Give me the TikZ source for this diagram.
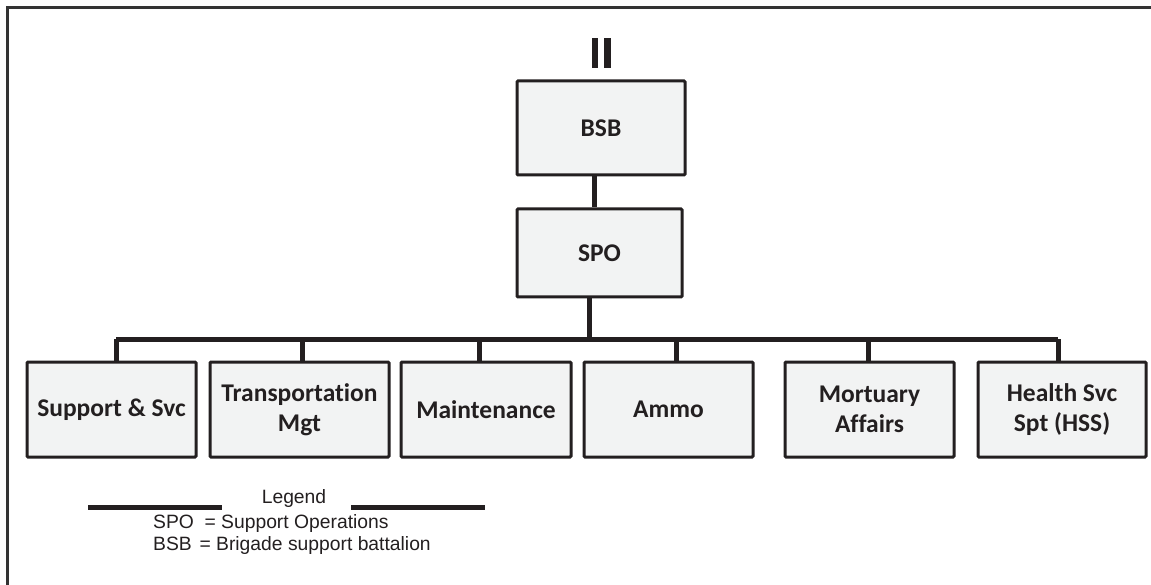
\documentclass[tikz,border=0pt]{standalone}
\usepackage{fontspec}
\usepackage{tikz}
\usetikzlibrary{calc}
\newfontfamily\boxfont[Ligatures={NoCommon}]{Carlito}
\newfontfamily\legendfont{Liberation Sans}
\definecolor{ink}{HTML}{231F20}
\definecolor{boxfill}{HTML}{F2F3F3}
\colorlet{framecol}{black!80}
\tikzstyle{unit}=[draw=ink,line width=3pt,fill=boxfill,rounded corners=1pt,align=center,
  inner sep=0pt,text=ink,font=\boxfont\bfseries\fontsize{25.5}{30}\selectfont]
\tikzstyle{link}=[ink,line width=5pt]
\tikzstyle{legendtxt}=[text=ink,inner sep=0pt,font=\legendfont\fontsize{19.3}{22}\selectfont]
\def\H{95}

\begin{document}
\begin{tikzpicture}[x=1pt,y=-1pt]
  \useasboundingbox (0,0) rectangle (1151,585);

  % FRAME
  \draw[framecol,line width=3pt] (1151,8) -- (7,8) -- (7,585);

  % ECHELON
  \fill[ink] (592,38) rectangle (598,68);
  \fill[ink] (604,38) rectangle (611,68);

  % HQ
  \node[unit,minimum width=168,minimum height=94] (bsb) at (601,128) {BSB};
  \node[unit,minimum width=165,minimum height=88] (spo) at (599.5,253) {SPO};

  % SECTIONS
  \node[unit,minimum width=169,minimum height=\H] (sec1) at (111.5,409.5) {Support \& Svc};
  \node[unit,minimum width=179,minimum height=\H] (sec2) at (299.5,409.5) {Transportation\\Mgt};
  \node[unit,minimum width=170,minimum height=\H] (sec3) at (486,409.5) {Maintenance};
  \node[unit,minimum width=169,minimum height=\H] (sec4) at (668.5,409.5) {Ammo};
  \node[unit,minimum width=169,minimum height=\H] (sec5) at (869.5,409.5) {Mortuary\\Affairs};
  \node[unit,minimum width=168,minimum height=\H] (sec6) at (1062,409.5) {Health Svc\\Spt (HSS)};

  % LINKS
  \coordinate (hq) at (594,0);
  \coordinate (bus) at (589,339);
  \draw[link] (hq |- bsb.south) -- (hq |- spo.north);
  \draw[link] (bus |- spo.south) -- (bus);
  \foreach \i/\x in {1/116,2/302,3/479,4/676,5/868,6/1058}
    \coordinate (d\i) at (\x,339);
  \draw[link] (d1) -- (d6);
  \foreach \i in {1,...,6}
    \draw[link] (d\i) -- (d\i |- sec\i.north);

  % LEGEND
  \node[legendtxt,anchor=base] (leg) at (294,503.5) {Legend};
  \draw[ink,line width=5pt] (88,507.5) -- (222,507.5);
  \draw[ink,line width=5pt] (351,507.5) -- (485,507.5);
  \node[legendtxt,anchor=base west] (legspo) at (153,528) {SPO\hspace{0.55em}= Support Operations};
  \node[legendtxt,anchor=base west] (legbsb) at (153,550) {BSB\hspace{0.4em}= Brigade support battalion};

\end{tikzpicture}
\end{document}
